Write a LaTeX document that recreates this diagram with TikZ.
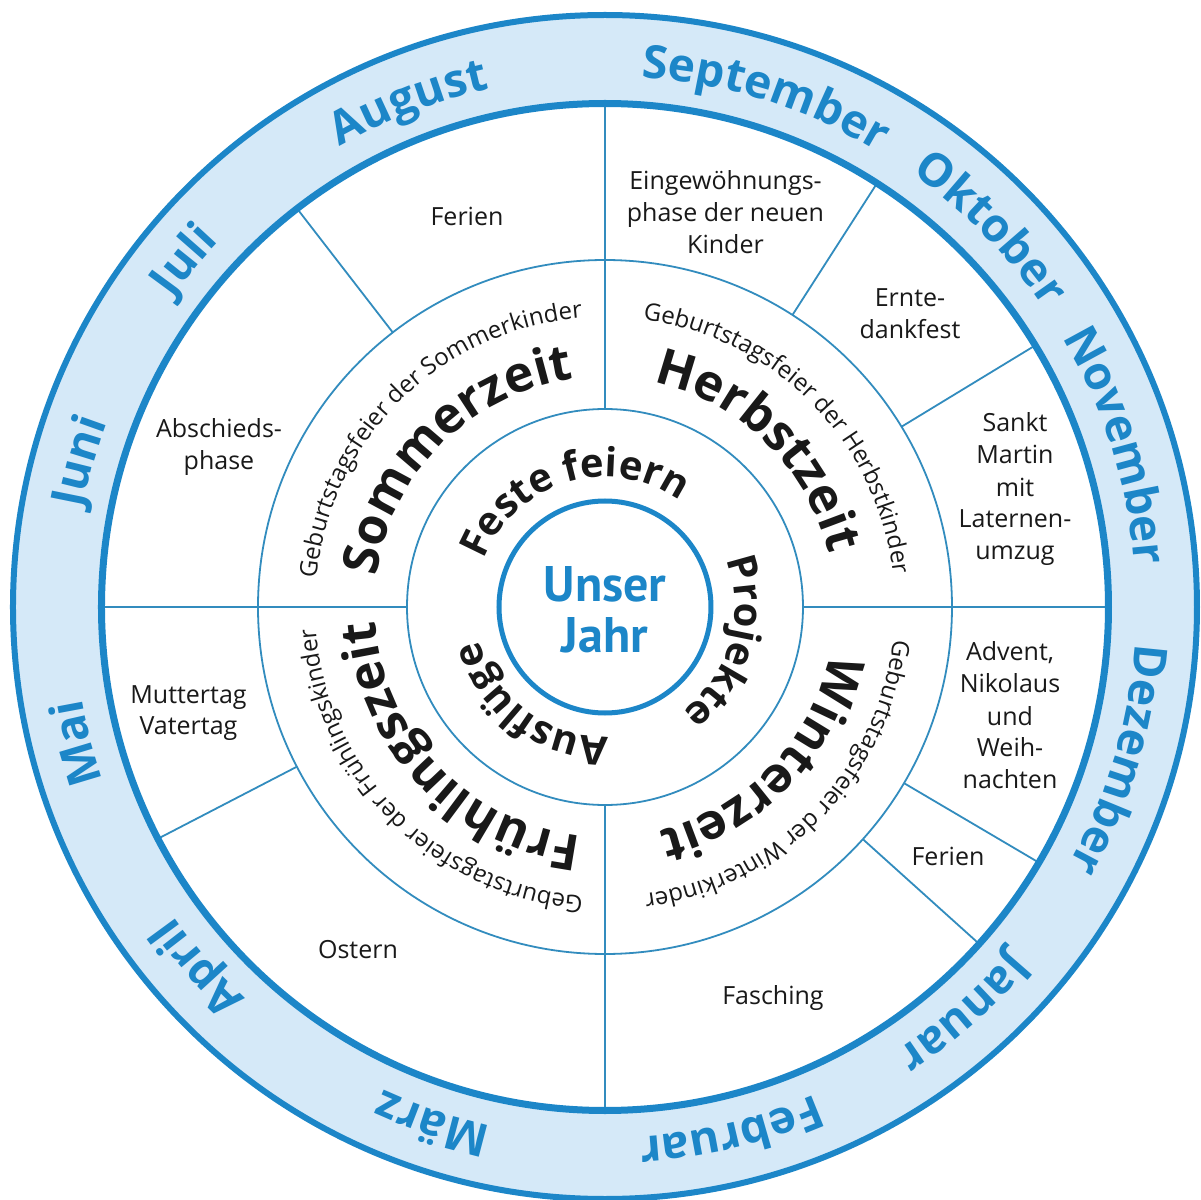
\documentclass[tikz,border=0pt]{standalone}
\usepackage{fontspec}
\setmainfont{Open Sans}
\newfontfamily\ptsans{PT Sans}
\usetikzlibrary{decorations.text}
\definecolor{mblue}{RGB}{28,134,200}
\definecolor{bandfill}{RGB}{213,233,248}
\definecolor{lblue}{RGB}{50,140,190}
\definecolor{ink}{RGB}{25,25,25}
\newcommand\monthfont{\bfseries\fontsize{23}{23}\selectfont}
\newcommand\seasonfont{\bfseries\fontsize{25}{25}\selectfont}
\newcommand\bdayfont{\fontsize{12}{12}\selectfont}
\newcommand\innerfont{\bfseries\fontsize{20}{20}\selectfont}
\newcommand\evlines[1]{\begin{tabular}[t]{@{}c@{}}#1\end{tabular}}
% #1 colour, #2 font, #3 text, #4 centre angle, #5 baseline radius
\newcommand\arctext[5]{%
  \path[decorate, decoration={text along path, text align=center,
      text color=#1, text={|#2|#3}}]
    ({#4+75}:#5) arc[start angle={#4+75}, end angle={#4-75}, radius=#5];}
\begin{document}
\begin{tikzpicture}[x=0.5pt,y=0.5pt,
  thinline/.style={draw=lblue, line width=0.9pt},
  ringline/.style={draw=mblue, line width=#1},
  eventtext/.style={text=ink, anchor=base, inner sep=0pt,
      font=\fontsize{12.5}{16}\selectfont}]
\useasboundingbox[fill=white] (-605,-593) rectangle (596,607);
% month band
\fill[bandfill, even odd rule] (0,0) circle[radius=592] (0,0) circle[radius=503.5];
% thin rings
\draw[thinline] (0,0) circle[radius=347];
\draw[thinline] (0,0) circle[radius=198];
% quadrant lines
\foreach \a in {0,90,180,270} \draw[thinline] (\a:198) -- (\a:503);
% event dividers
\foreach \a in {127.7,57.3,31.3,-30.5,-42,207.4} \draw[thinline] (\a:347) -- (\a:503);
% thick rings
\draw[ringline=3pt] (0,0) circle[radius=592];
\draw[ringline=3.5pt] (0,0) circle[radius=503.5];
\draw[ringline=2.5pt] (0,0) circle[radius=106];
% months
\arctext{mblue}{\monthfont}{September}{72.5}{531}
\arctext{mblue}{\monthfont}{Oktober}{44.5}{531}
\arctext{mblue}{\monthfont}{November}{17.5}{531}
\arctext{mblue}{\monthfont}{Dezember}{343.5}{531}
\arctext{mblue}{\monthfont}{Januar}{311.5}{531}
\arctext{mblue}{\monthfont}{Februar}{283.5}{531}
\arctext{mblue}{\monthfont}{März}{251.5}{531}
\arctext{mblue}{\monthfont}{April}{221.5}{531}
\arctext{mblue}{\monthfont}{Mai}{194.5}{531}
\arctext{mblue}{\monthfont}{Juni}{164.5}{531}
\arctext{mblue}{\monthfont}{Juli}{140.5}{531}
\arctext{mblue}{\monthfont}{August}{111.25}{531}
% seasons
\arctext{ink}{\seasonfont}{Sommerzeit}{135}{230}
\arctext{ink}{\seasonfont}{Herbstzeit}{45.6}{230}
\arctext{ink}{\seasonfont}{Winterzeit}{315.9}{230}
\arctext{ink}{\seasonfont}{Frühlingszeit}{223.8}{230}
% birthdays
\arctext{ink}{\bdayfont}{Geburtstagsfeier der Sommerkinder}{134.4}{290}
\arctext{ink}{\bdayfont}{Geburtstagsfeier der Herbstkinder}{44.5}{290}
\arctext{ink}{\bdayfont}{Geburtstagsfeier der Winterkinder}{315.7}{290}
\arctext{ink}{\bdayfont}{Geburtstagsfeier der Frühlingskinder}{225}{290}
% inner ring
\arctext{ink}{\innerfont}{Feste feiern}{106.75}{130}
\arctext{ink}{\innerfont}{Projekte}{343.75}{130}
\arctext{ink}{\innerfont}{Ausflüge}{233.1}{130}
% centre
\node[anchor=base, inner sep=0pt, text=mblue,
  font=\ptsans\bfseries\fontsize{25}{25}\selectfont] (unser) at (0,5) {\evlines{Unser\\Jahr}};
% events
\node[eventtext] (ferienS) at (-138,381) {Ferien};
\node[eventtext] (eingew) at (120.5,417) {\evlines{Eingewöhnungs-\\phase der neuen\\Kinder}};
\node[eventtext] (ernte) at (305,300) {\evlines{Ernte-\\dankfest}};
\node[eventtext] (martin) at (410,175) {\evlines{Sankt\\Martin\\mit\\Laternen-\\umzug}};
\node[eventtext] (abschied) at (-386,169) {\evlines{Abschieds-\\phase}};
\node[eventtext] (mutter) at (-416.5,-96) {\evlines{Muttertag\\Vatertag}};
\node[eventtext] (advent) at (405,-54) {\evlines{Advent,\\Nikolaus\\und\\Weih-\\nachten}};
\node[eventtext] (ferienW) at (343,-258) {Ferien};
\node[eventtext] (fasching) at (168,-397) {Fasching};
\node[eventtext] (ostern) at (-247,-351) {Ostern};
\end{tikzpicture}
\end{document}
